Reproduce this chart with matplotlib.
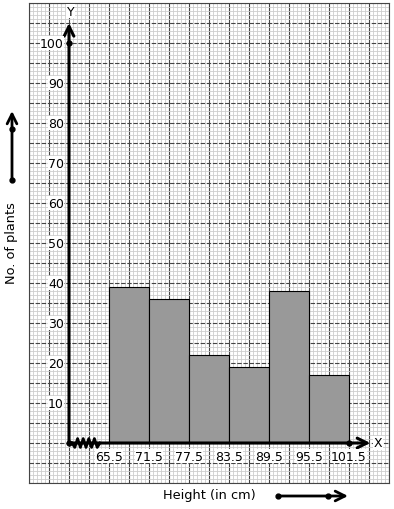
import numpy as np
import matplotlib
matplotlib.use("Agg")
import matplotlib.pyplot as plt

# histogram data
edges = [65.5, 71.5, 77.5, 83.5, 89.5, 95.5, 101.5]
freqs = [39, 36, 22, 19, 38, 17]
y_ticks = [10, 20, 30, 40, 50, 60, 70, 80, 90, 100]
x_labels = ["65.5", "71.5", "77.5", "83.5", "89.5", "95.5", "101.5"]

origin_x = 59.5   # where the kink sits on the x axis


def main():
    fig = plt.figure(figsize=(3.94, 5.10), dpi=100)
    ax = fig.add_axes([29 / 394, 26 / 510, 360 / 394, 480 / 510])
    ax.set_xlim(origin_x - 6, origin_x + 48)
    ax.set_ylim(-10, 110)

    # graph paper
    ax.set_xticks(np.arange(origin_x - 6, origin_x + 48.01, 3))
    ax.set_xticks(np.arange(origin_x - 6, origin_x + 48.01, 0.6), minor=True)
    ax.set_yticks(np.arange(-10, 110.01, 5))
    ax.set_yticks(np.arange(-10, 110.01, 1), minor=True)
    ax.grid(which='minor', color='#cdcdcd', linewidth=0.6, zorder=0)
    ax.grid(which='major', axis='x', color='#444444', linewidth=0.8, zorder=1)
    ax.grid(which='major', axis='y', color='#444444', linewidth=0.8,
            linestyle=(0, (4, 1.5)), zorder=1)
    ax.set_axisbelow(True)
    ax.tick_params(which='both', length=0, labelleft=False, labelbottom=False)
    for s in ax.spines.values():
        s.set_color('#444444')
        s.set_linewidth(0.8)

    # bars
    widths = np.diff(edges)
    ax.bar(edges[:-1], freqs, width=widths, align='edge', color='#999999',
           edgecolor='black', linewidth=0.8, zorder=3)

    # axes with arrows
    head = '->,head_length=0.7,head_width=0.35'
    ax.annotate('', xy=(origin_x, 105), xytext=(origin_x, 0),
                arrowprops=dict(arrowstyle=head, lw=2.2, color='black',
                                shrinkA=0, shrinkB=0), zorder=5)
    ax.annotate('', xy=(104.7, 0), xytext=(origin_x, 0),
                arrowprops=dict(arrowstyle=head, lw=2.2, color='black',
                                shrinkA=0, shrinkB=0), zorder=5)
    ax.plot([origin_x, origin_x, edges[-1]], [0, 100, 0], 'o', color='black',
            markersize=3.5, zorder=6, clip_on=False)

    # kink on x axis
    zx = np.linspace(origin_x + 0.45, origin_x + 4.65, 11)
    zy = np.array([0, -1, 1, -1, 1, -1, 1, -1, 1, -1, 0]) * 1.1
    ax.plot(zx, zy, color='black', lw=2.0, zorder=6)

    ax.text(origin_x + 0.2, 108, 'Y', ha='center', va='center', fontsize=9,
            bbox=dict(facecolor='white', edgecolor='none', pad=0.5), zorder=7)
    ax.text(105.9, 0, 'X', ha='center', va='center', fontsize=9,
            bbox=dict(facecolor='white', edgecolor='none', pad=0.5), zorder=7)

    for v in y_ticks:
        ax.text(origin_x - 0.75, v, str(v), ha='right', va='center', fontsize=9,
                bbox=dict(facecolor='white', edgecolor='none', pad=0.3), zorder=7)
    for e, lab in zip(edges, x_labels):
        ax.text(e, -3.3, lab, ha='center', va='center', fontsize=9,
                bbox=dict(facecolor='white', edgecolor='none', pad=0.3), zorder=7)

    # axis titles with arrows
    fig.text(12 / 394, 1 - 243 / 510, 'No. of plants', rotation=90,
             ha='center', va='center', fontsize=9.3)
    fig.text(209 / 394, 1 - 496 / 510, 'Height (in cm)',
             ha='center', va='center', fontsize=9.3)
    aprops = dict(arrowstyle=head, lw=2.0, color='black',
                  shrinkA=0, shrinkB=0, mutation_scale=10)
    fig.add_artist(matplotlib.patches.FancyArrowPatch(
        (12, 510 - 181), (12, 510 - 112), transform=None, **aprops))
    fig.add_artist(matplotlib.patches.FancyArrowPatch(
        (278, 510 - 497), (348, 510 - 497), transform=None, **aprops))
    fig.add_artist(matplotlib.lines.Line2D([12, 12, 278, 328],
                                           [510 - 181, 510 - 130, 510 - 497, 510 - 497],
                                           transform=None, marker='o', linestyle='none',
                                           color='black', markersize=3.5))

    plt.savefig("out.png", dpi=100)


if __name__ == "__main__":
    main()
